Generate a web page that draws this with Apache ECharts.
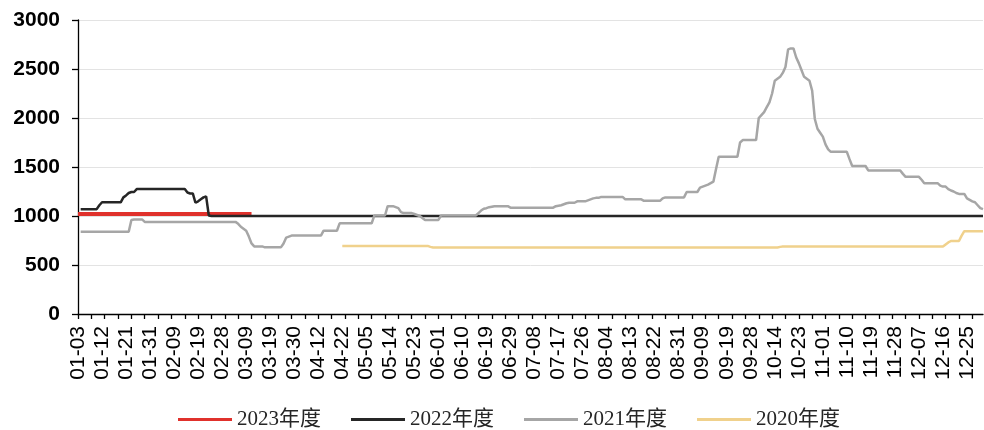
<!DOCTYPE html>
<html>
<head>
<meta charset="utf-8">
<script src="https://cdn.jsdelivr.net/npm/echarts@6/dist/echarts.min.js"></script>
<style>
  html, body { margin: 0; padding: 0; background: #fff; }
  #chart { width: 984px; height: 430px; }
</style>
</head>
<body>
<div id="chart"></div>
<script>
// Trading-day calendar shared by every season (month-day only)
const dates = (
  '01-03 01-04 01-05 01-06 01-07 01-08 01-09 01-10 01-11 ' +
  '01-12 01-13 01-14 01-15 01-16 01-17 01-18 01-19 01-20 ' +
  '01-21 01-22 01-24 01-25 01-26 01-27 01-28 01-29 01-30 ' +
  '01-31 02-01 02-02 02-03 02-04 02-05 02-06 02-07 02-08 ' +
  '02-09 02-10 02-11 02-13 02-14 02-15 02-16 02-17 02-18 ' +
  '02-19 02-20 02-21 02-22 02-23 02-24 02-25 02-26 02-27 ' +
  '02-28 03-01 03-02 03-03 03-04 03-05 03-06 03-07 03-08 ' +
  '03-09 03-10 03-11 03-12 03-14 03-15 03-16 03-17 03-18 ' +
  '03-19 03-20 03-21 03-22 03-24 03-25 03-27 03-28 03-29 ' +
  '03-30 03-31 04-01 04-02 04-06 04-07 04-08 04-09 04-11 ' +
  '04-12 04-13 04-14 04-15 04-16 04-18 04-19 04-20 04-21 ' +
  '04-22 04-23 04-24 04-25 04-26 04-27 04-28 04-29 05-04 ' +
  '05-05 05-06 05-07 05-08 05-09 05-10 05-11 05-12 05-13 ' +
  '05-14 05-15 05-16 05-17 05-18 05-19 05-20 05-21 05-22 ' +
  '05-23 05-24 05-25 05-26 05-27 05-28 05-29 05-30 05-31 ' +
  '06-01 06-02 06-03 06-04 06-05 06-06 06-07 06-08 06-09 ' +
  '06-10 06-11 06-12 06-13 06-14 06-15 06-16 06-17 06-18 ' +
  '06-19 06-20 06-21 06-22 06-23 06-24 06-25 06-27 06-28 ' +
  '06-29 06-30 07-01 07-02 07-03 07-04 07-05 07-06 07-07 ' +
  '07-08 07-09 07-10 07-11 07-12 07-13 07-14 07-15 07-16 ' +
  '07-17 07-18 07-19 07-20 07-21 07-22 07-23 07-24 07-25 ' +
  '07-26 07-27 07-28 07-29 07-30 07-31 08-01 08-02 08-03 ' +
  '08-04 08-05 08-06 08-07 08-08 08-09 08-10 08-11 08-12 ' +
  '08-13 08-14 08-15 08-16 08-17 08-18 08-19 08-20 08-21 ' +
  '08-22 08-23 08-24 08-25 08-26 08-27 08-28 08-29 08-30 ' +
  '08-31 09-01 09-02 09-03 09-04 09-05 09-06 09-07 09-08 ' +
  '09-09 09-10 09-11 09-12 09-13 09-14 09-15 09-16 09-18 ' +
  '09-19 09-20 09-21 09-22 09-23 09-24 09-25 09-26 09-27 ' +
  '09-28 09-29 09-30 10-08 10-09 10-10 10-11 10-12 10-13 ' +
  '10-14 10-15 10-16 10-17 10-18 10-19 10-20 10-21 10-22 ' +
  '10-23 10-24 10-25 10-26 10-27 10-28 10-29 10-30 10-31 ' +
  '11-01 11-02 11-03 11-04 11-05 11-06 11-07 11-08 11-09 ' +
  '11-10 11-11 11-12 11-13 11-14 11-15 11-16 11-17 11-18 ' +
  '11-19 11-20 11-21 11-22 11-23 11-24 11-25 11-26 11-27 ' +
  '11-28 11-29 11-30 12-01 12-02 12-03 12-04 12-05 12-06 ' +
  '12-07 12-08 12-09 12-10 12-11 12-12 12-13 12-14 12-15 ' +
  '12-16 12-17 12-18 12-19 12-20 12-21 12-22 12-23 12-24 ' +
  '12-25 12-26 12-27 12-28 12-29 12-30 12-31'
).split(' ');

const seriesNames = ['2023年度', '2022年度', '2021年度', '2020年度'];
const yTicks = [0, 500, 1000, 1500, 2000, 2500, 3000];

// 2023 season, from 01-03
const v2023 = [
  1020,1020,1020,1020,1020,1020,1020,1020,1020,1020,
  1020,1020,1020,1020,1020,1020,1020,1020,1020,1020,
  1020,1020,1020,1020,1020,1020,1020,1020,1020,1020,
  1020,1020,1020,1020,1020,1020,1020,1020,1020,1020,
  1020,1020,1020,1020,1020,1020,1020,1020,1020,1020,
  1020,1020,1020,1020,1020,1020,1020,1020,1020,1020,
  1020,1020,1020,1020,1020,1020
];

// 2022 season, from 01-03
const v2022 = [
  null,1070,1070,1070,1070,1070,1070,1070,1110,1140,
  1140,1140,1140,1140,1140,1140,1140,1190,1210,1235,
  1245,1245,1275,1275,1275,1275,1275,1275,1275,1275,
  1275,1275,1275,1275,1275,1275,1275,1275,1275,1275,
  1275,1240,1230,1230,1135,1150,1170,1190,1200,1005,
  1000,1000,1000,1000,1000,1000,1000,1000,1000,1000,
  1000,1000,1000,1000,1000,1000,1000,1000,1000,1000,
  1000,1000,1000,1000,1000,1000,1000,1000,1000,1000,
  1000,1000,1000,1000,1000,1000,1000,1000,1000,1000,
  1000,1000,1000,1000,1000,1000,1000,1000,1000,1000,
  1000,1000,1000,1000,1000,1000,1000,1000,1000,1000,
  1000,1000,1000,1000,1000,1000,1000,1000,1000,1000,
  1000,1000,1000,1000,1000,1000,1000,1000,1000,1000,
  1000,1000,1000,1000,1000,1000,1000,1000,1000,1000,
  1000,1000,1000,1000,1000,1000,1000,1000,1000,1000,
  1000,1000,1000,1000,1000,1000,1000,1000,1000,1000,
  1000,1000,1000,1000,1000,1000,1000,1000,1000,1000,
  1000,1000,1000,1000,1000,1000,1000,1000,1000,1000,
  1000,1000,1000,1000,1000,1000,1000,1000,1000,1000,
  1000,1000,1000,1000,1000,1000,1000,1000,1000,1000,
  1000,1000,1000,1000,1000,1000,1000,1000,1000,1000,
  1000,1000,1000,1000,1000,1000,1000,1000,1000,1000,
  1000,1000,1000,1000,1000,1000,1000,1000,1000,1000,
  1000,1000,1000,1000,1000,1000,1000,1000,1000,1000,
  1000,1000,1000,1000,1000,1000,1000,1000,1000,1000,
  1000,1000,1000,1000,1000,1000,1000,1000,1000,1000,
  1000,1000,1000,1000,1000,1000,1000,1000,1000,1000,
  1000,1000,1000,1000,1000,1000,1000,1000,1000,1000,
  1000,1000,1000,1000,1000,1000,1000,1000,1000,1000,
  1000,1000,1000,1000,1000,1000,1000,1000,1000,1000,
  1000,1000,1000,1000,1000,1000,1000,1000,1000,1000,
  1000,1000,1000,1000,1000,1000,1000,1000,1000,1000,
  1000,1000,1000,1000,1000,1000,1000,1000,1000,1000,
  1000,1000,1000,1000,1000,1000,1000,1000,1000,1000
];

// 2021 season, from 01-03
const v2021 = [
  null,840,840,840,840,840,840,840,840,840,
  840,840,840,840,840,840,840,840,840,840,
  960,965,965,965,965,940,940,940,940,940,
  940,940,940,940,940,940,940,940,940,940,
  940,940,940,940,940,940,940,940,940,940,
  940,940,940,940,940,940,940,940,940,940,
  920,890,870,850,790,720,690,690,690,690,
  680,680,680,680,680,680,680,720,780,790,
  800,800,800,800,800,800,800,800,800,800,
  800,800,850,850,850,850,850,850,925,925,
  925,925,925,925,925,925,925,925,925,925,
  925,1005,1005,1005,1005,1005,1100,1100,1100,1090,
  1080,1040,1030,1030,1030,1030,1020,1010,1000,980,
  960,960,960,960,960,960,1005,1005,1005,1005,
  1005,1005,1005,1005,1005,1005,1005,1005,1005,1005,
  1030,1055,1075,1080,1090,1095,1100,1100,1100,1100,
  1100,1100,1085,1085,1085,1085,1085,1085,1085,1085,
  1085,1085,1085,1085,1085,1085,1085,1085,1085,1100,
  1105,1110,1120,1130,1135,1135,1135,1150,1150,1150,
  1150,1160,1170,1180,1185,1185,1195,1195,1195,1195,
  1195,1195,1195,1195,1195,1170,1170,1170,1170,1170,
  1170,1170,1155,1155,1155,1155,1155,1155,1155,1180,
  1190,1190,1190,1190,1190,1190,1190,1190,1245,1245,
  1245,1245,1245,1290,1300,1310,1320,1335,1350,1480,
  1605,1605,1605,1605,1605,1605,1605,1605,1750,1775,
  1775,1775,1775,1775,1775,2000,2030,2060,2110,2160,
  2250,2380,2400,2420,2460,2520,2700,2710,2710,2620,
  2560,2490,2420,2400,2380,2280,1990,1890,1850,1810,
  1730,1680,1655,1655,1655,1655,1655,1655,1655,1580,
  1510,1510,1510,1510,1510,1510,1465,1465,1465,1465,
  1465,1465,1465,1465,1465,1465,1465,1465,1465,1430,
  1400,1400,1400,1400,1400,1400,1370,1335,1335,1335,
  1335,1335,1335,1310,1300,1300,1275,1260,1250,1235,
  1225,1225,1225,1180,1165,1150,1140,1110,1080,1070
];

// 2020 season, from 04-22
const start2020 = '04-22';
const v2020 = [
  695,
  695,695,695,695,695,695,695,695,695,695,
  695,695,695,695,695,695,695,695,695,695,
  695,695,695,695,695,695,695,695,695,695,
  695,695,685,678,678,678,678,678,678,678,
  678,678,678,678,678,678,678,678,678,678,
  678,678,678,678,678,678,678,678,678,678,
  678,678,678,678,678,678,678,678,678,678,
  678,678,678,678,678,678,678,678,678,678,
  678,678,678,678,678,678,678,678,678,678,
  678,678,678,678,678,678,678,678,678,678,
  678,678,678,678,678,678,678,678,678,678,
  678,678,678,678,678,678,678,678,678,678,
  678,678,678,678,678,678,678,678,678,678,
  678,678,678,678,678,678,678,678,678,678,
  678,678,678,678,678,678,678,678,678,678,
  678,678,678,678,678,678,678,678,678,678,
  678,678,678,685,688,688,688,688,688,688,
  688,688,688,688,688,688,688,688,688,688,
  688,688,688,688,688,688,688,688,688,688,
  688,688,688,688,688,688,688,688,688,688,
  688,688,688,688,688,688,688,688,688,688,
  688,688,688,688,688,688,688,688,688,688,
  688,688,688,688,688,710,730,745,745,745,
  745,800,845,845,845,845,845,845,845,845
];

const colors = ['#e0312c', '#262626', '#a6a6a6', '#f0d18c'];
const widths = [4, 2.5, 2.5, 2.5];

const offset2020 = dates.indexOf(start2020);
const seriesData = [
  v2023,
  v2022,
  v2021,
  v2020.map((v, k) => [offset2020 + k, v])
];

const chart = echarts.init(document.getElementById('chart'), null, { renderer: 'canvas' });

chart.setOption({
  animation: false,
  backgroundColor: '#ffffff',
  color: colors,
  grid: { left: 78, right: 1, top: 20, bottom: 116, containLabel: false },
  legend: {
    data: seriesNames.map((name, k) => ({
      name: name,
      icon: 'rect',
      itemStyle: { color: colors[k] }
    })),
    left: 173,
    top: 404,
    itemWidth: 54,
    itemHeight: 3,
    itemGap: 30,
    textStyle: {
      fontFamily: "'Liberation Serif', 'Noto Sans CJK SC', serif",
      fontSize: 21,
      color: '#262626'
    }
  },
  xAxis: {
    type: 'category',
    data: dates,
    boundaryGap: false,
    axisLine: { lineStyle: { color: '#000', width: 1.3 } },
    axisTick: { interval: 4, length: 5, lineStyle: { color: '#000', width: 1.3 } },
    axisLabel: {
      interval: 8,
      rotate: 90,
      margin: 12,
      color: '#000',
      fontFamily: "'Liberation Sans', Arial, sans-serif",
      fontSize: 21
    },
    splitLine: { show: false }
  },
  yAxis: {
    type: 'value',
    min: yTicks[0],
    max: yTicks[yTicks.length - 1],
    interval: 500,
    axisLine: { show: true, lineStyle: { color: '#000', width: 1.3 } },
    axisTick: { show: true, length: 6, lineStyle: { color: '#000', width: 1.3 } },
    axisLabel: {
      margin: 18,
      color: '#000',
      fontWeight: 'bold',
      fontFamily: "'Liberation Sans', Arial, sans-serif",
      fontSize: 21,
      formatter: (v) => String(v)
    },
    splitLine: { lineStyle: { color: '#e3e3e3', width: 1 } }
  },
  series: seriesNames.map((name, k) => ({
    name: name,
    type: 'line',
    data: seriesData[k],
    showSymbol: false,
    symbol: 'none',
    connectNulls: false,
    lineStyle: { color: colors[k], width: widths[k] },
    itemStyle: { color: colors[k] },
    z: 2 + k
  }))
});
</script>
</body>
</html>
